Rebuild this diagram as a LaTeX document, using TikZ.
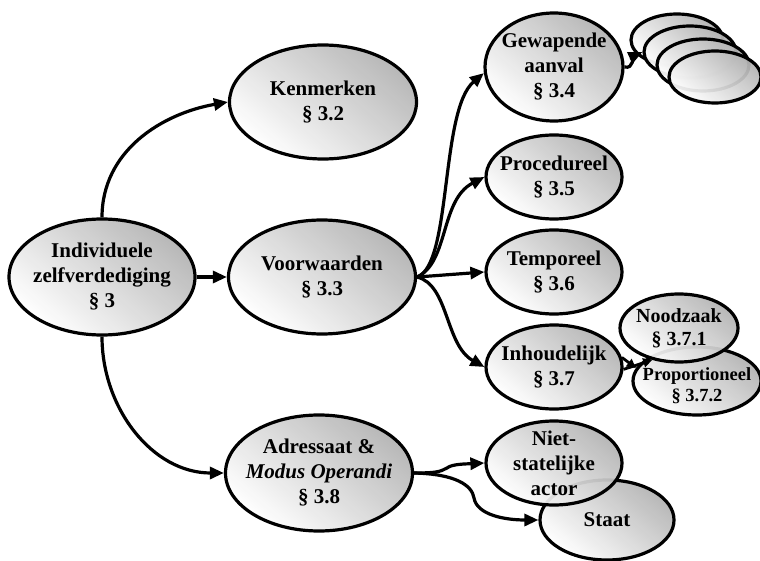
\documentclass[tikz,border=0pt]{standalone}
\usepackage{fontspec}
\setmainfont{Liberation Serif}
\usetikzlibrary{shapes.geometric,arrows.meta}

\tikzset{
  bubble/.style={ellipse, draw=black, line width=3.2pt, inner sep=0pt,
    top color=gray!60, bottom color=white, shading angle=-40, fill opacity=0.93},
  tx/.style={font=\bfseries\fontsize{21}{25}\selectfont, align=center, text=black, inner sep=0pt},
  txs/.style={font=\bfseries\fontsize{18.5}{21}\selectfont, align=center, text=black, inner sep=0pt},
  link/.style={line width=3.2pt, -{Triangle[length=14pt,width=12pt]}},
  shortlink/.style={line width=2.8pt, -{Triangle[length=9pt,width=9pt]}},
}

\begin{document}
\begin{tikzpicture}[x=1pt,y=-1pt]
\useasboundingbox (0,0) rectangle (760,561);

% main chain
\node[bubble, minimum width=186pt, minimum height=116pt,
  label={[tx]center:Individuele\\zelfverdediging\\§ 3}] (ind) at (102,277) {};
\node[bubble, minimum width=187pt, minimum height=114pt,
  label={[tx]center:Kenmerken\\§ 3.2}] (ken) at (323,102) {};
\node[bubble, minimum width=187pt, minimum height=114pt,
  label={[tx]center:Voorwaarden\\§ 3.3}] (voo) at (322,277) {};
\node[bubble, minimum width=187pt, minimum height=116pt,
  label={[tx]center:Adressaat \&\\\textit{Modus Operandi}\\§ 3.8}] (adr) at (319,473) {};

% conditions
\node[bubble, minimum width=138pt, minimum height=108pt,
  label={[tx]center:Gewapende\\aanval\\§ 3.4}] (gew) at (554,67) {};
\node[bubble, minimum width=136pt, minimum height=84pt,
  label={[tx]center:Procedureel\\§ 3.5}] (pro) at (554,177) {};
\node[bubble, minimum width=136pt, minimum height=84pt,
  label={[tx]center:Temporeel\\§ 3.6}] (tem) at (554,272) {};
\node[bubble, minimum width=136pt, minimum height=84pt,
  label={[tx]center:Inhoudelijk\\§ 3.7}] (inh) at (554,367) {};

% stack of unlabelled bubbles
\node[bubble, minimum width=92pt, minimum height=52pt] (stk1) at (677,40) {};
\node[bubble, minimum width=92pt, minimum height=52pt] (stk2) at (690,52) {};
\node[bubble, minimum width=92pt, minimum height=52pt] (stk3) at (703,65) {};
\node[bubble, minimum width=92pt, minimum height=52pt] (stk4) at (715,77) {};

% necessity and proportionality
\node[bubble, minimum width=128pt, minimum height=68pt,
  label={[txs,yshift=-5pt]center:Proportioneel\\§ 3.7.2}] (prop) at (697,381) {};
\node[bubble, minimum width=118pt, minimum height=68pt,
  label={[txs,font=\bfseries\fontsize{20}{23}\selectfont]center:Noodzaak\\§ 3.7.1}] (nood) at (679,328) {};

% addressees
\node[bubble, minimum width=134pt, minimum height=80pt,
  label={[tx]center:Staat}] (staat) at (607,520) {};
\node[bubble, minimum width=136pt, minimum height=84pt,
  label={[tx]center:Niet-\\statelijke\\actor}] (niet) at (554,463) {};

% connectors
\draw[link] (ind.north) to[out=90,in=190] (ken.west);
\draw[link] (ind.east) -- (voo.west);
\draw[link] (ind.south) to[out=-90,in=180] (adr.west);

\draw[link] (voo.east) .. controls (452,265) and (440,110) .. (gew.185);
\draw[link] (voo.east) .. controls (449,262) and (440,200) .. (pro.west);
\draw[link] (voo.east) -- (tem.west);
\draw[link] (voo.east) .. controls (449,285) and (445,345) .. (inh.west);

\draw[link] (gew.east) to[out=-15,in=205] (stk2.west);

\draw[shortlink] (inh.-2) -- (nood.230);
\draw[shortlink] (inh.8) -- (prop.168);

\draw[link] (adr.east) .. controls (435,473) and (440,472) .. (447,468)
  .. controls (452,464) and (465,464) .. (niet.west);
\draw[link] (adr.east) .. controls (455,474) and (472,485) .. (474,498)
  .. controls (477,515) and (505,520) .. (staat.west);
\end{tikzpicture}
\end{document}
